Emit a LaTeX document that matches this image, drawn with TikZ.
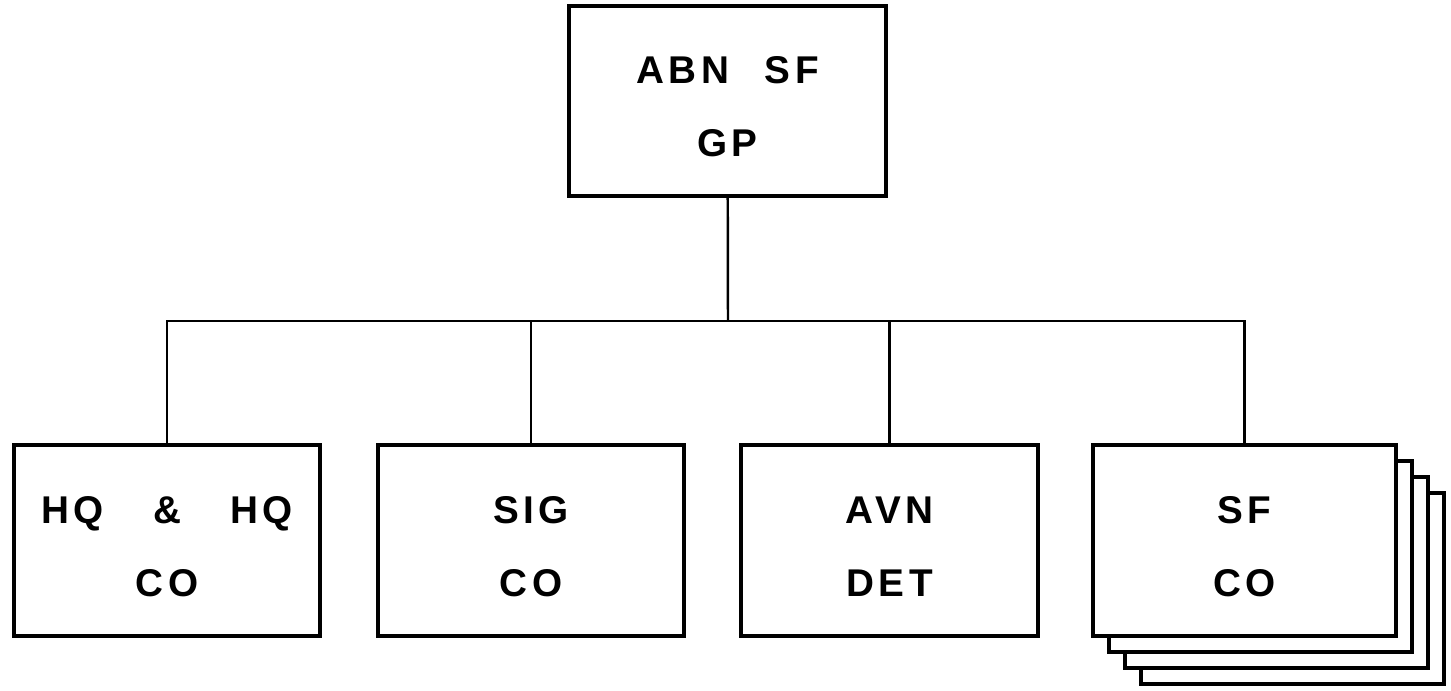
\documentclass[tikz,border=0pt]{standalone}
\usepackage{fontspec}
\setmainfont[LetterSpace=12]{Liberation Sans}
\usetikzlibrary{calc}

% extra height on a first line, to set the lettering a little low
\newcommand{\lowset}{\rule{0pt}{11pt}}

\begin{document}
\begin{tikzpicture}[x=0.01cm, y=-0.01cm,
    unit/.style={rectangle, draw, line width=1pt, fill=white,
        minimum width=3.06cm, minimum height=1.91cm, inner sep=0pt,
        align=center, font=\fontsize{11}{20.7}\selectfont\bfseries},
    link/.style={line width=0.7pt}]

    \useasboundingbox (0,0) rectangle (1451,691);

    \node[unit, minimum width=3.17cm, minimum height=1.90cm] (grp) at (727.5,101)
        {\lowset ABN\hspace{10pt}SF\\GP};
    \coordinate (bus) at (728,321);

    \node[unit] (hq)  at (167,540.5) {\lowset HQ\hspace{14pt}\&\hspace{14pt}HQ\\CO};
    \node[unit] (sig) at (531,540.5) {\lowset SIG\\CO};
    \node[unit, minimum width=2.97cm] (avn) at (889.5,540.5) {\lowset AVN\\DET};

    % company stack, back to front
    \foreach \i in {3,2,1}
        \node[unit, minimum width=3.03cm] (sf\i) at ($(1244.5,540.5)+(\i*16,\i*16)$) {};
    \node[unit, minimum width=3.03cm] (sf) at (1244.5,540.5) {\lowset SF\\CO};

    \draw[link] (grp) -- (bus);
    \draw[link] (hq.north)  |- (bus);
    \draw[link] (sig.north) |- (bus);
    \draw[link] (avn.north) |- (bus);
    \draw[link] (sf.north)  |- (bus);
\end{tikzpicture}
\end{document}
